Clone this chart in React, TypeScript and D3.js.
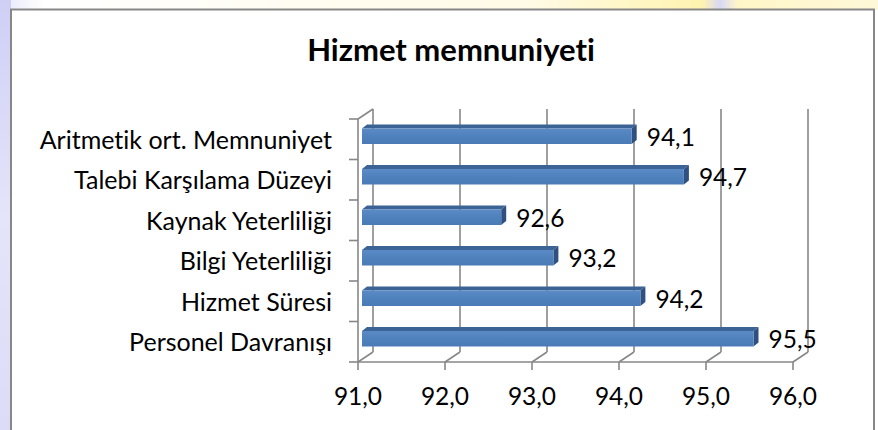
import React from "react";
import * as d3 from "d3";

const categories = [
  "Aritmetik ort. Memnuniyet",
  "Talebi Karşılama Düzeyi",
  "Kaynak Yeterliliği",
  "Bilgi Yeterliliği",
  "Hizmet Süresi",
  "Personel Davranışı",
];
const values = [94.1, 94.7, 92.6, 93.2, 94.2, 95.5];
const xTicks = [91, 92, 93, 94, 95, 96];
const title = "Hizmet memnuniyeti";

const W = 878;
const H = 430;
const FONT = "Lato, 'Open Sans', sans-serif";
const noLig = { fontVariantLigatures: "none", fontFeatureSettings: '"liga" 0, "clig" 0' } as React.CSSProperties;

export default function App() {
  const x = d3.scaleLinear().domain([91, 96]).range([358, 793]);
  const y = d3.scaleBand<string>().domain(categories).range([119, 362]);
  const DX = 15;
  const DY = -10;
  const fmt = (v: number) => d3.format(".1f")(v).replace(".", ",");
  const grid = "#878787";

  const bShiftX = 4;
  const fTop = 9.5;
  const fH = 15.5;
  const tdx = 5;
  const tdy = -4;

  return (
    <svg
      width={W}
      height={H}
      style={{ position: "absolute", left: 0, top: 0 }}
      xmlns="http://www.w3.org/2000/svg"
    >
      <defs>
        <linearGradient id="leftbg" x1="0" y1="0" x2="0" y2="1">
          <stop offset="0" stopColor="#cfcff6" />
          <stop offset="0.5" stopColor="#e4e4fa" />
          <stop offset="1" stopColor="#dcdcf8" />
        </linearGradient>
        <linearGradient id="topbg" x1="0" y1="0" x2="1" y2="0">
          <stop offset="0" stopColor="#e6e6fa" />
          <stop offset="0.05" stopColor="#ffffff" />
          <stop offset="0.6" stopColor="#fffbe6" />
          <stop offset="0.8" stopColor="#fff3b0" />
          <stop offset="0.82" stopColor="#d8d8f6" />
          <stop offset="0.84" stopColor="#fff6c8" />
          <stop offset="1" stopColor="#fff8d8" />
        </linearGradient>
        <linearGradient id="barFront" x1="0" y1="0" x2="0" y2="1">
          <stop offset="0" stopColor="#5b8bc7" />
          <stop offset="0.5" stopColor="#4f81bd" />
          <stop offset="1" stopColor="#4a7bb6" />
        </linearGradient>
      </defs>
      <rect x={0} y={0} width={W} height={H} fill="#ffffff" />
      <rect x={0} y={0} width={W} height={10} fill="url(#topbg)" />
      <rect x={0} y={0} width={11} height={H} fill="url(#leftbg)" />

      <rect
        x={11}
        y={9.5}
        width={863}
        height={H + 10}
        fill="#ffffff"
        stroke="#878787"
        strokeWidth={2}
      />

      <text
        x={451}
        y={61}
        textAnchor="middle"
        fontFamily={FONT}
        fontWeight="bold"
        fontSize={31}
        fill="#000"
        style={noLig}
      >
        {title}
      </text>

      {xTicks.map((t) => (
        <line
          key={"g" + t}
          x1={x(t) + DX}
          x2={x(t) + DX}
          y1={y.range()[0] + DY}
          y2={y.range()[1] + DY}
          stroke={grid}
          strokeWidth={1.6}
        />
      ))}
      {xTicks.map((t) => (
        <line
          key={"d" + t}
          x1={x(t)}
          x2={x(t) + DX}
          y1={y.range()[1]}
          y2={y.range()[1] + DY}
          stroke={grid}
          strokeWidth={1.6}
        />
      ))}
      <line
        x1={x(91)}
        x2={x(91) + DX}
        y1={y.range()[0]}
        y2={y.range()[0] + DY}
        stroke={grid}
        strokeWidth={1.6}
      />
      <line
        x1={x(91)}
        x2={x(91)}
        y1={y.range()[0]}
        y2={y.range()[1]}
        stroke={grid}
        strokeWidth={1.6}
      />
      <line
        x1={x(91)}
        x2={x(96)}
        y1={y.range()[1]}
        y2={y.range()[1]}
        stroke={grid}
        strokeWidth={1.6}
      />
      {d3.range(categories.length + 1).map((i) => {
        const yy = y.range()[0] + i * y.step();
        return (
          <line
            key={"lt" + i}
            x1={x(91) - 9}
            x2={x(91)}
            y1={yy}
            y2={yy}
            stroke={grid}
            strokeWidth={1.6}
          />
        );
      })}
      {xTicks.map((t) => (
        <g key={"bt" + t}>
          <line
            x1={x(t)}
            x2={x(t)}
            y1={y.range()[1]}
            y2={y.range()[1] + 8}
            stroke={grid}
            strokeWidth={1.6}
          />
          <text
            x={x(t)}
            y={405}
            textAnchor="middle"
            fontFamily={FONT}
            fontSize={24.5}
            fill="#000"
          >
            {fmt(t)}
          </text>
        </g>
      ))}

      {categories.map((c) => (
        <text
          key={"c" + c}
          x={332}
          y={(y(c) as number) + 29.5}
          textAnchor="end"
          fontFamily={FONT}
          fontSize={25}
          fill="#000"
          style={noLig}
        >
          {c}
        </text>
      ))}

      {categories.map((c, i) => {
        const v = values[i];
        const x0 = x(91) + bShiftX;
        const x1 = x(v) + bShiftX;
        const y0 = (y(c) as number) + fTop;
        const y1 = y0 + fH;
        const top = `M${x0},${y0} L${x0 + tdx},${y0 + tdy} L${x1 + tdx},${y0 + tdy} L${x1},${y0} Z`;
        const end = `M${x1},${y0} L${x1 + tdx},${y0 + tdy} L${x1 + tdx},${y1 + tdy} L${x1},${y1} Z`;
        return (
          <g key={"b" + c}>
            <path d={top} fill="#3c6396" />
            <path d={end} fill="#2f5080" />
            <rect
              x={x0}
              y={y0}
              width={x1 - x0}
              height={fH}
              fill="url(#barFront)"
            />
            <text
              x={x1 + tdx + 10}
              y={(y(c) as number) + 26.5}
              fontFamily={FONT}
              fontSize={24.5}
              fill="#000"
            >
              {fmt(v)}
            </text>
          </g>
        );
      })}
    </svg>
  );
}
